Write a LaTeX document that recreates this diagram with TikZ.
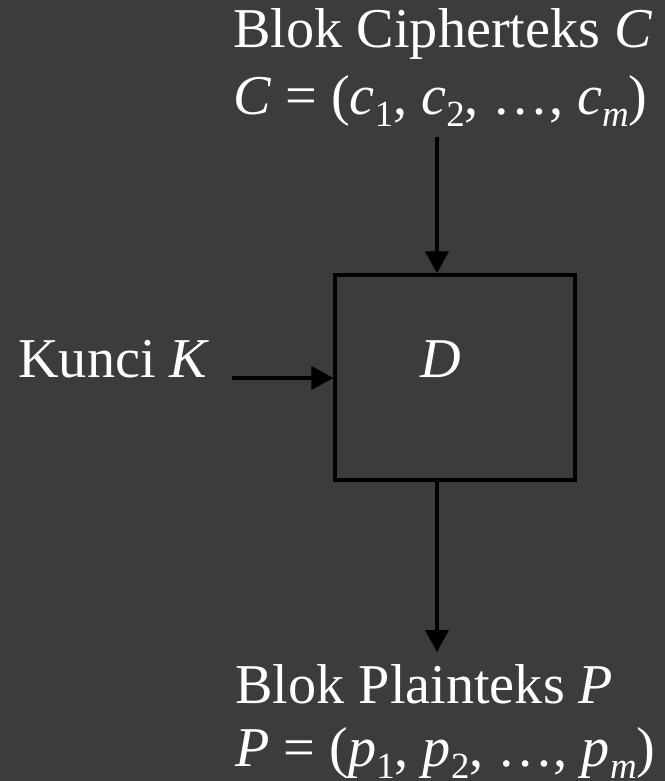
\documentclass[tikz,border=0pt]{standalone}
\usepackage{fontspec}
\setmainfont{Liberation Serif}
\usepackage{tikz}
\usetikzlibrary{arrows.meta,calc,positioning}
\definecolor{slidegray}{RGB}{60,60,60}
\newcommand{\sub}[1]{\raisebox{-0.22em}{\fontsize{21}{21}\selectfont #1}}

\begin{document}
\begin{tikzpicture}[x=0.02cm,y=-0.02cm,>={Triangle[length=4.4mm,width=4.6mm]},
  lbl/.style={text=white,font=\fontsize{32}{38}\selectfont,inner sep=0pt},
  arr/.style={->,black,line width=2.1pt},
  blok/.style={draw=black,line width=1.9pt,minimum width=4.8cm,minimum height=4.1cm,inner sep=0pt}]
 \fill[slidegray] (0,0) rectangle (665,781);
 \useasboundingbox (0,0) rectangle (665,781);
 % teks di atas
 \node[lbl,anchor=base west] (ctitle) at (233,48) {Blok Cipherteks \textit{C}};
 \node[lbl,anchor=base west] (cvec) at (233,114)
  {\textit{C} = (\textit{c}\sub{1}, \textit{c}\sub{2}, …, \textit{c}\sub{\textit{m}})};
 % kotak dekripsi
 \node[blok] (dec) at (455,377.5) {};
 \node[lbl,anchor=base] (dlab) at (441,377) {\textit{D}};
 \node[lbl,anchor=base west] (key) at (18,377) {Kunci \textit{K}};
 % teks di bawah
 \node[lbl,anchor=base west] (ptitle) at (235,703) {Blok Plainteks \textit{P}};
 \node[lbl,anchor=base west] (pvec) at (235,766)
  {\textit{P} = (\textit{p}\sub{1}, \textit{p}\sub{2}, …, \textit{p}\sub{\textit{m}})};
 \coordinate (cin) at (437,137);
 \coordinate (kin) at (232,378);
 \coordinate (pout) at (437,652);
 \draw[arr] (cin) -- (cin |- dec.north);
 \draw[arr] (kin) -- (kin -| dec.west);
 \draw[arr] (dec.south -| pout) -- (pout);
\end{tikzpicture}
\end{document}
